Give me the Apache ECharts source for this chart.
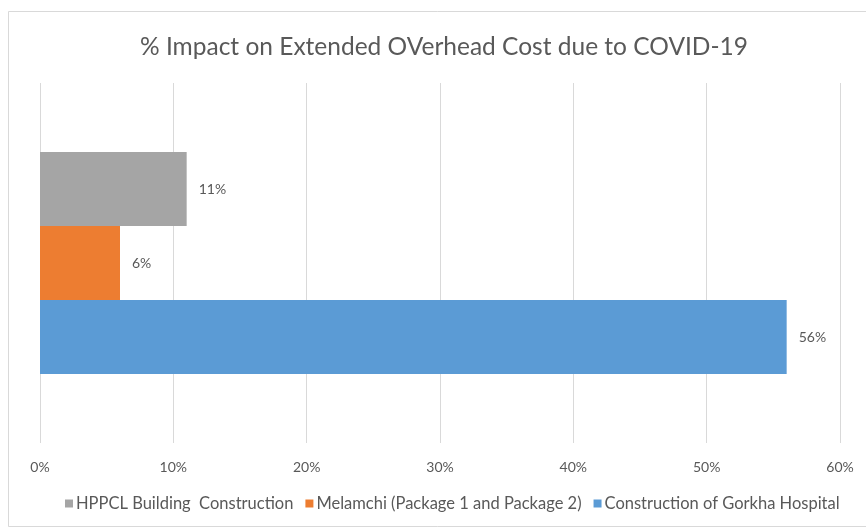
<!DOCTYPE html>
<html>
<head>
<meta charset="utf-8">
<style>
  html, body { margin: 0; padding: 0; background: #fff; }
  #chart { width: 866px; height: 530px; }
</style>
<script src="https://cdn.jsdelivr.net/npm/echarts@6/dist/echarts.min.js"></script>
</head>
<body>
<div id="chart"></div>
<script>
const titleText = '% Impact on Extended OVerhead Cost due to COVID-19';
const categories = [''];
// listed top to bottom as the bars stack
const seriesNames = ['HPPCL Building  Construction', 'Melamchi (Package 1 and Package 2)', 'Construction of Gorkha Hospital'];
const seriesValues = [[11], [6], [56]];
const seriesColors = ['#A5A5A5', '#ED7D31', '#5B9BD5'];
const legendOrder = ['HPPCL Building  Construction', 'Melamchi (Package 1 and Package 2)', 'Construction of Gorkha Hospital'];
const axisMin = 0, axisMax = 60, axisStep = 10;

const textColor = '#595959';
const fontFamily = 'Lato, "Open Sans", sans-serif';

const chart = echarts.init(document.getElementById('chart'), null, { renderer: 'canvas' });

chart.setOption({
  animation: false,
  backgroundColor: '#fff',
  textStyle: { fontFamily: fontFamily },
  title: {
    text: titleText,
    left: 439,
    textAlign: 'center',
    top: 30,
    textStyle: { fontFamily: fontFamily, fontSize: 24.5, fontWeight: 'normal', color: textColor }
  },
  graphic: [{
    type: 'rect',
    shape: { x: 8.5, y: 11.5, width: 880, height: 515 },
    style: { fill: 'none', stroke: '#D9D9D9', lineWidth: 1 },
    silent: true,
    z: -1
  }],
  legend: {
    data: legendOrder,
    bottom: 13,
    left: 60,
    itemWidth: 8,
    itemHeight: 8,
    itemGap: 12,
    icon: 'rect',
    textStyle: { fontFamily: fontFamily, fontSize: 16.5, color: textColor, padding: [0, 0, 0, -2] }
  },
  grid: { left: 40, right: 26, top: 83, bottom: 87, containLabel: false },
  xAxis: {
    type: 'value',
    min: axisMin,
    max: axisMax,
    interval: axisStep,
    axisLine: { show: false },
    axisTick: { show: false },
    splitLine: { show: true, lineStyle: { color: '#D9D9D9', width: 1 } },
    axisLabel: { formatter: '{value}%', color: textColor, fontSize: 14, margin: 17, fontFamily: fontFamily }
  },
  yAxis: {
    type: 'category',
    data: categories,
    axisLine: { show: false },
    axisTick: { show: false },
    axisLabel: { show: false }
  },
  series: seriesNames.map((name, i) => ({
    name: name,
    type: 'bar',
    data: seriesValues[i],
    barWidth: 74,
    barGap: '0%',
    itemStyle: { color: seriesColors[i] },
    label: {
      show: true,
      position: 'right',
      distance: 12,
      formatter: '{c}%',
      color: textColor,
      fontSize: 14,
      fontFamily: fontFamily
    }
  }))
});
</script>
</body>
</html>
